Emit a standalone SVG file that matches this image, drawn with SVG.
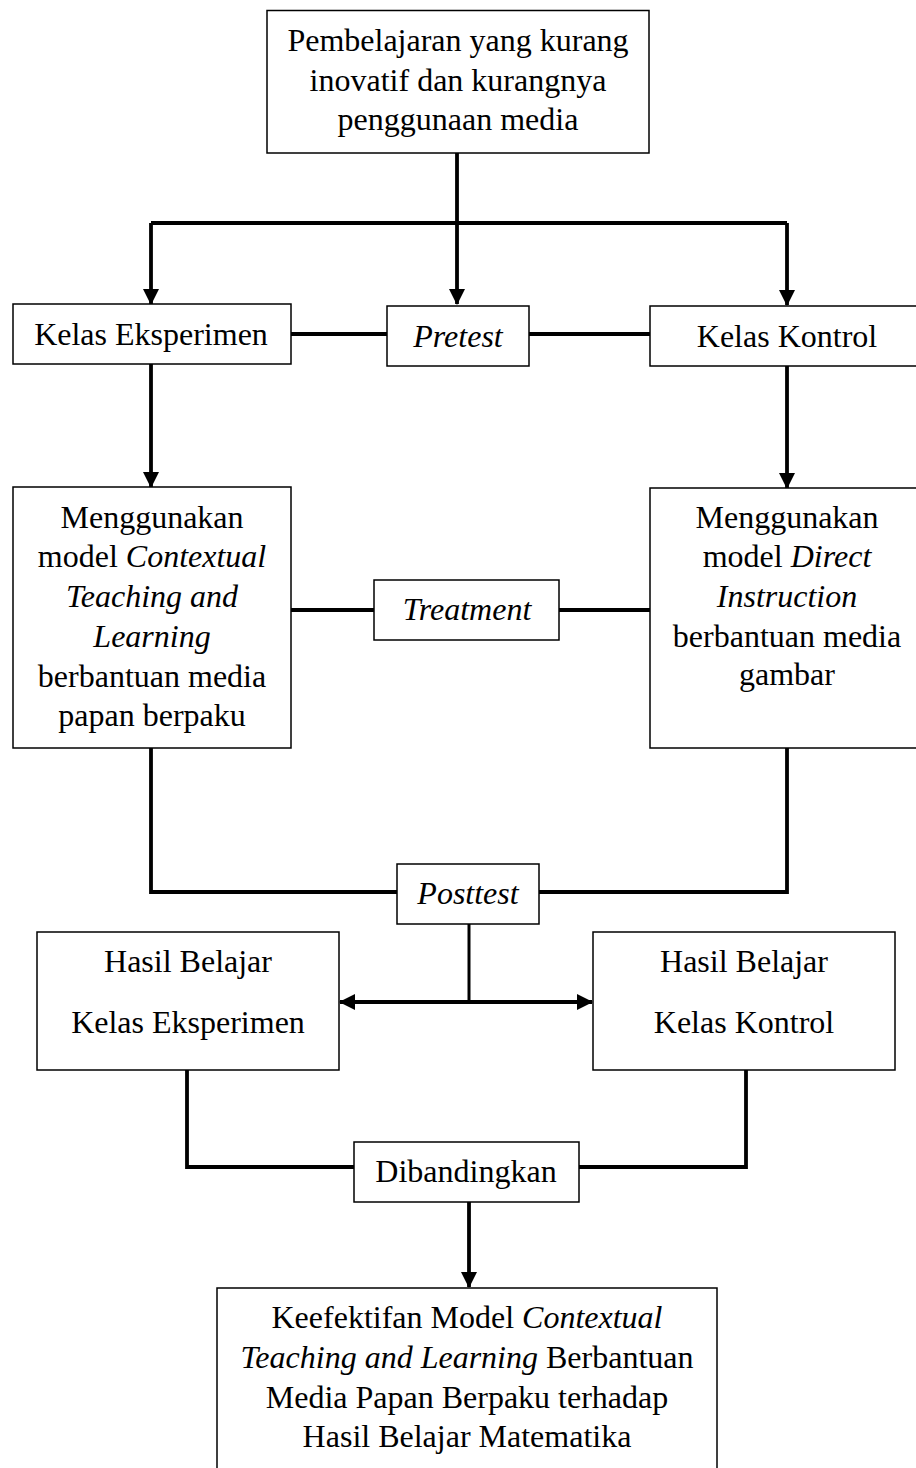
<svg xmlns="http://www.w3.org/2000/svg" width="916" height="1468" viewBox="0 0 916 1468">
<style>
.box{fill:#fff;stroke:#000;stroke-width:1.5}
.t{font-family:"Liberation Serif","Times New Roman",serif;font-size:32px;fill:#000;text-anchor:middle}
.i{font-style:italic}
.c{fill:none;stroke:#000;stroke-width:3.8}
.c2{fill:none;stroke:#000;stroke-width:3}
</style>
<defs>
<marker id="ah" markerUnits="userSpaceOnUse" markerWidth="16" markerHeight="16" refX="15" refY="8" orient="auto" viewBox="0 0 16 16">
<path d="M0,0 L16,8 L0,16 Z" fill="#000"/>
</marker>
</defs>
<g id="connectors">
<path class="c" d="M457,153 V304" marker-end="url(#ah)"/>
<path class="c" d="M151,223 H787"/>
<path class="c" d="M151,223 V304" marker-end="url(#ah)"/>
<path class="c" d="M787,223 V305" marker-end="url(#ah)"/>
<path class="c" d="M291,334 H387"/>
<path class="c" d="M529,334 H650"/>
<path class="c" d="M151,364 V487" marker-end="url(#ah)"/>
<path class="c" d="M787,366 V488" marker-end="url(#ah)"/>
<path class="c" d="M291,610 H374"/>
<path class="c" d="M559,610 H650"/>
<path class="c" d="M151,748 V892 H397"/>
<path class="c" d="M787,748 V892 H539"/>
<path class="c2" d="M469,924 V1002"/>
<path class="c" d="M469,1002 H340" marker-end="url(#ah)"/>
<path class="c" d="M469,1002 H592" marker-end="url(#ah)"/>
<path class="c" d="M187,1070 V1167 H354"/>
<path class="c" d="M746,1070 V1167 H579"/>
<path class="c" d="M469,1202 V1287" marker-end="url(#ah)"/>
</g>
<g id="n-top">
<rect class="box" x="267" y="10.5" width="382" height="142.5"/>
<text class="t" x="458" y="51">Pembelajaran yang kurang</text>
<text class="t" x="458" y="91">inovatif dan kurangnya</text>
<text class="t" x="458" y="130">penggunaan media</text>
</g>
<g id="n-eksperimen">
<rect class="box" x="13" y="304" width="278" height="60"/>
<text class="t" x="151" y="345">Kelas Eksperimen</text>
</g>
<g id="n-pretest">
<rect class="box" x="387" y="306" width="142" height="60"/>
<text class="t i" x="458" y="347">Pretest</text>
</g>
<g id="n-kontrol">
<rect class="box" x="650" y="306" width="275" height="60"/>
<text class="t" x="787" y="347">Kelas Kontrol</text>
</g>
<g id="n-ctl">
<rect class="box" x="13" y="487" width="278" height="261"/>
<text class="t" x="152" y="528">Menggunakan</text>
<text class="t" x="152" y="567">model <tspan class="i">Contextual</tspan></text>
<text class="t i" x="152" y="607">Teaching and</text>
<text class="t i" x="152" y="647">Learning</text>
<text class="t" x="152" y="687">berbantuan media</text>
<text class="t" x="152" y="726">papan berpaku</text>
</g>
<g id="n-treatment">
<rect class="box" x="374" y="580" width="185" height="60"/>
<text class="t i" x="467" y="620">Treatment</text>
</g>
<g id="n-di">
<rect class="box" x="650" y="488" width="275" height="260"/>
<text class="t" x="787" y="528">Menggunakan</text>
<text class="t" x="787" y="567">model <tspan class="i">Direct</tspan></text>
<text class="t i" x="787" y="607">Instruction</text>
<text class="t" x="787" y="647">berbantuan media</text>
<text class="t" x="787" y="685">gambar</text>
</g>
<g id="n-posttest">
<rect class="box" x="397" y="864" width="142" height="60"/>
<text class="t i" x="468" y="904">Posttest</text>
</g>
<g id="n-hasil-eks">
<rect class="box" x="37" y="932" width="302" height="138"/>
<text class="t" x="188" y="972">Hasil Belajar</text>
<text class="t" x="188" y="1033">Kelas Eksperimen</text>
</g>
<g id="n-hasil-kon">
<rect class="box" x="593" y="932" width="302" height="138"/>
<text class="t" x="744" y="972">Hasil Belajar</text>
<text class="t" x="744" y="1033">Kelas Kontrol</text>
</g>
<g id="n-dibandingkan">
<rect class="box" x="354" y="1142" width="225" height="60"/>
<text class="t" x="466" y="1182">Dibandingkan</text>
</g>
<g id="n-hasil">
<rect class="box" x="217" y="1288" width="500" height="200"/>
<text class="t" x="467" y="1328">Keefektifan Model <tspan class="i">Contextual</tspan></text>
<text class="t" x="467" y="1368"><tspan class="i">Teaching and Learning</tspan> Berbantuan</text>
<text class="t" x="467" y="1408">Media Papan Berpaku terhadap</text>
<text class="t" x="467" y="1447">Hasil Belajar Matematika</text>
</g>
</svg>
